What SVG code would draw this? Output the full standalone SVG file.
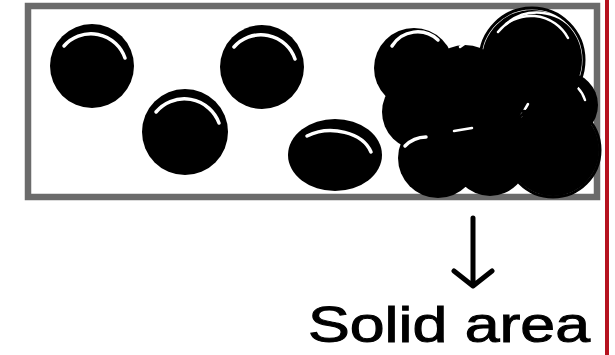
<svg xmlns="http://www.w3.org/2000/svg" width="615" height="355" viewBox="0 0 615 355">
  <style>
    .ball { fill: #000; }
    .ring { fill: none; stroke: #000; stroke-width: 3; }
    .hl { fill: none; stroke: #fff; stroke-width: 3.5; stroke-linecap: round; }
    .hlt { fill: none; stroke: #fff; stroke-width: 2.5; stroke-linecap: round; }
    .ink { fill: none; stroke: #000; stroke-width: 5; stroke-linecap: round; stroke-linejoin: round; }
    .label { font-family: "Liberation Sans", "DejaVu Sans", sans-serif; font-size: 50px; fill: #000; stroke: #000; stroke-width: 1; }
  </style>
  <rect width="615" height="355" fill="#fff"/>

  <g id="container">
    <rect x="28" y="6" width="569" height="191" fill="none" stroke="#6b6b6b" stroke-width="6.5"/>
  </g>

  <g id="particle1">
    <circle class="ball" cx="92" cy="66" r="42"/>
    <path class="hl" d="M64 46 A36 36 0 0 1 125 58"/>
  </g>
  <g id="particle2">
    <circle class="ball" cx="185" cy="132" r="43"/>
    <path class="hl" d="M156 112 A37 37 0 0 1 219 123"/>
  </g>
  <g id="particle3">
    <circle class="ball" cx="262" cy="67" r="42"/>
    <path class="hl" d="M234 47 A36 36 0 0 1 295 59"/>
  </g>
  <g id="particle4">
    <ellipse class="ball" cx="335" cy="155" rx="47" ry="36"/>
    <path class="hl" d="M307 136 A42 30 0 0 1 371 152"/>
  </g>

  <g id="solid-cluster">
    <circle class="ball" cx="414" cy="68" r="40"/>
    <circle class="ball" cx="420" cy="112" r="38"/>
    <circle class="ball" cx="465" cy="85" r="40"/>
    <circle class="ball" cx="532" cy="60" r="50"/>
    <circle class="ball" cx="505" cy="110" r="42"/>
    <circle class="ball" cx="470" cy="132" r="38"/>
    <circle class="ball" cx="438" cy="158" r="40"/>
    <circle class="ball" cx="490" cy="158" r="38"/>
    <circle class="ball" cx="553" cy="150" r="46"/>
    <circle class="ball" cx="565" cy="105" r="33"/>
    <path class="hl" d="M392 46 A30 30 0 0 1 438 40"/>
    <path class="hlt" d="M498 32 A42 42 0 0 1 568 38"/>
    <path class="hlt" d="M506 24 A48 48 0 0 1 574 30"/>
    <path class="hlt" d="M460 47 A30 30 0 0 1 478 40"/>
    <path class="hlt" d="M521 116 L528 104"/>
    <path class="hlt" d="M454 131 L472 128"/>
    <path class="hl" d="M405 146 A30 30 0 0 1 426 137"/>
    <path class="hlt" d="M578 88 A30 30 0 0 1 585 100"/>
    <circle class="ring" cx="532" cy="60" r="52"/>
    <circle class="ring" cx="553" cy="150" r="47"/>
  </g>

  <g id="boundary">
    <line x1="607" y1="0" x2="607" y2="355" stroke="#b5121f" stroke-width="4"/>
  </g>

  <g id="connectors">
    <path class="ink" d="M473 218 L473 285 M454 271 L473 286 L492 271"/>
  </g>

  <g id="label">
    <text class="label" x="308" y="342" textLength="282" lengthAdjust="spacingAndGlyphs">Solid area</text>
  </g>
</svg>
